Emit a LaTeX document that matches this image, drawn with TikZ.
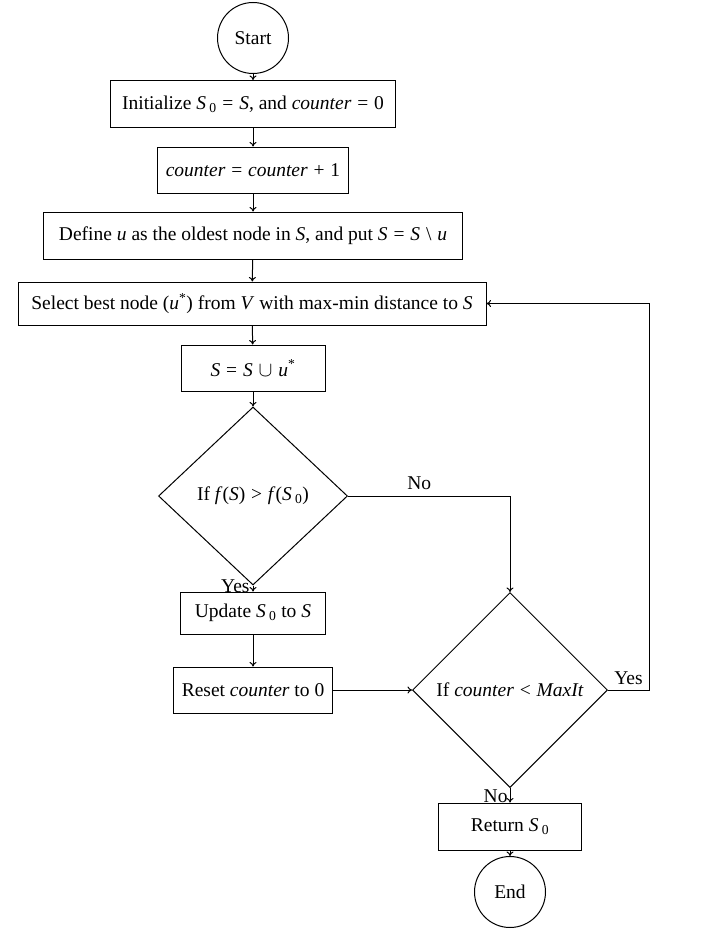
\documentclass[tikz,border=0pt]{standalone}
\usepackage{fontspec}
\setmainfont{Liberation Serif}
\usetikzlibrary{shapes.geometric,arrows.meta}
\newcommand\mi[1]{\textit{#1}}
\newcommand\sub[1]{\,\textsubscript{#1}}
\newcommand\op[1]{\hspace{0.3em}#1\hspace{0.3em}}
\begin{document}
\begin{tikzpicture}[x=1pt,y=-1pt,
  every node/.style={font=\fontsize{19.5}{23}\selectfont},
  box/.style={draw,rectangle,inner sep=0pt,line width=1pt},
  term/.style={draw,circle,inner sep=0pt,minimum size=71pt,line width=1pt},
  decision/.style={draw,diamond,inner sep=0pt,line width=1pt},
  arr/.style={-{To[length=4.5pt,width=7pt]},line width=1pt},
  lbl/.style={inner sep=1pt}]
\useasboundingbox (0,0) rectangle (718,934);
\node[term] (start) at (253,38) {Start};
\node[box,minimum width=285pt,minimum height=47pt] (init) at (253,104) {Initialize \mi{S}\sub{0}\op{=}\mi{S}, and \mi{counter}\op{=}0};
\node[box,minimum width=191pt,minimum height=46pt] (cnt) at (253,170) {\mi{counter}\op{=}\mi{counter}\op{+}1};
\node[box,minimum width=419pt,minimum height=47pt] (def) at (253,235.5) {Define \mi{u} as the oldest node in \mi{S}, and put \mi{S}\op{=}\mi{S}\op{\textbackslash}\mi{u}};
\node[box,minimum width=468pt,minimum height=43pt] (sel) at (252,303.5) {Select best node (\mi{u}\textsuperscript{*}) from \mi{V} with max-min distance to \mi{S}};
\node[box,minimum width=144pt,minimum height=46pt] (uni) at (253,368) {\mi{S}\op{=}\mi{S}\op{$\cup$}\mi{u}\textsuperscript{*}};
\node[decision,minimum width=189pt,minimum height=178pt] (d1) at (253,496) {If \mi{f}(\mi{S})\op{>}\mi{f}(\mi{S}\sub{0})};
\node[box,minimum width=145pt,minimum height=42pt] (upd) at (253,613) {Update \mi{S}\sub{0} to \mi{S}};
\node[box,minimum width=159pt,minimum height=46pt] (rst) at (253,690) {Reset \mi{counter} to 0};
\node[decision,minimum width=195pt,minimum height=195pt] (d2) at (510,690) {If \mi{counter}\op{<}\mi{MaxIt}};
\node[box,minimum width=143pt,minimum height=47pt] (ret) at (510,826.5) {Return \mi{S}\sub{0}};
\node[term] (end) at (510,892) {End};
\coordinate (loop) at (649,690);
\draw[arr] (start) -- (init);
\draw[arr] (init) -- (cnt);
\draw[arr] (cnt) -- (def);
\draw[arr] (def) -- (sel);
\draw[arr] (sel) -- (uni);
\draw[arr] (uni) -- (d1);
\draw[arr] (d1.south) -- node[lbl,anchor=east,pos=0.2,xshift=-2pt] {Yes} (upd.north);
\draw[arr] (upd) -- (rst);
\draw[arr] (rst) -- (d2.west);
\draw[arr] (d1.east) -| node[lbl,above=5pt,pos=0.22] {No} (d2.north);
\draw[arr] (d2.east) -- node[lbl,above=4pt] {Yes} (loop) |- (sel.east);
\draw[arr] (d2.south) -- node[lbl,anchor=east,pos=0.6,xshift=-1pt] {No} (ret.north);
\draw[arr] (ret) -- (end);
\end{tikzpicture}
\end{document}
